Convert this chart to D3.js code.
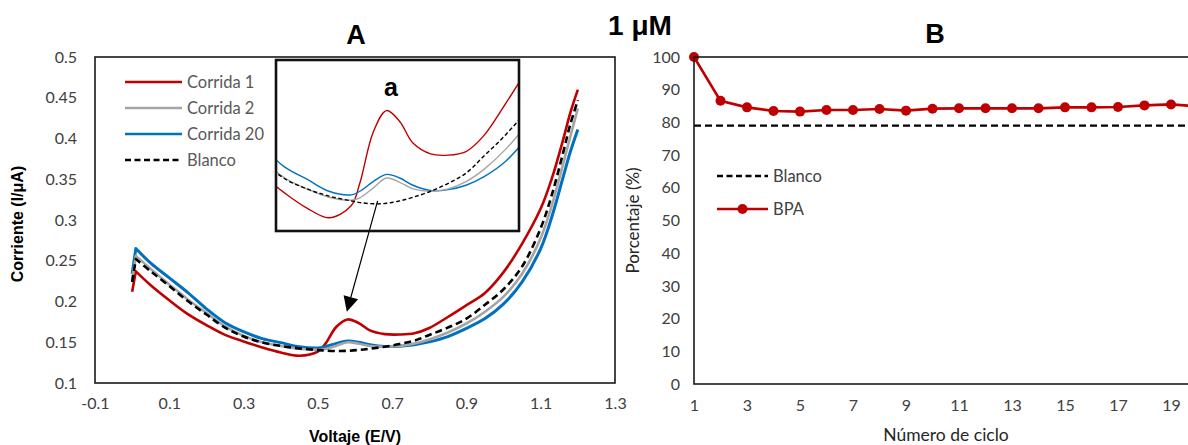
<!DOCTYPE html>
<html>
<head>
<meta charset="utf-8">
<script src="https://cdn.jsdelivr.net/npm/d3@7"></script>
<style>
  html, body { margin: 0; padding: 0; background: #fff; }
  svg { display: block; }
  .tick text { font-family: Lato, "Open Sans", sans-serif; font-size: 16px; fill: #404040; }
</style>
</head>
<body>
<svg id="fig" width="1188" height="445"></svg>
<script>
// ---- Panel A: cyclic voltammograms (current vs. potential) ----
const voltage = [0, 0.01, 0.05, 0.1, 0.15, 0.2, 0.25, 0.3, 0.35, 0.4, 0.45, 0.5, 0.52, 0.55, 0.58,
                 0.61, 0.64, 0.68, 0.72, 0.76, 0.8, 0.85, 0.9, 0.95, 1.0, 1.05, 1.1, 1.13, 1.16, 1.18, 1.2];
const corrida1 = [0.212, 0.237, 0.220, 0.2015, 0.1845, 0.171, 0.159, 0.151, 0.1437, 0.1375, 0.1335, 0.1385,
                  0.148, 0.169, 0.178, 0.1735, 0.1645, 0.160, 0.1595, 0.161, 0.1675, 0.181, 0.1955, 0.2105,
                  0.236, 0.271, 0.314, 0.351, 0.398, 0.432, 0.460];
const corrida2 = [0.227, 0.256, 0.240, 0.221, 0.2025, 0.186, 0.1695, 0.158, 0.150, 0.1455, 0.142, 0.1408,
                  0.1418, 0.1458, 0.150, 0.1482, 0.1455, 0.1445, 0.1455, 0.1485, 0.1535, 0.162, 0.173, 0.1875,
                  0.206, 0.234, 0.278, 0.318, 0.368, 0.403, 0.437];
const corrida20 = [0.234, 0.265, 0.247, 0.229, 0.211, 0.191, 0.174, 0.163, 0.1545, 0.1495, 0.1445, 0.143,
                   0.1445, 0.1485, 0.1515, 0.150, 0.147, 0.1448, 0.1452, 0.147, 0.1505, 0.157, 0.167, 0.179,
                   0.197, 0.224, 0.265, 0.304, 0.352, 0.384, 0.411];
const blanco = [0.224, 0.252, 0.237, 0.219, 0.2005, 0.184, 0.168, 0.157, 0.1497, 0.1455, 0.1425, 0.1405,
                0.1398, 0.1393, 0.1395, 0.1405, 0.142, 0.1445, 0.1478, 0.152, 0.159, 0.168, 0.179, 0.196,
                0.215, 0.243, 0.290, 0.331, 0.382, 0.418, 0.447];
const voltTicks = [-0.1, 0.1, 0.3, 0.5, 0.7, 0.9, 1.1, 1.3];
const currentTicks = [0.1, 0.15, 0.2, 0.25, 0.3, 0.35, 0.4, 0.45, 0.5];
const seriesNames = ["Corrida 1", "Corrida 2", "Corrida 20", "Blanco"];

// ---- Panel B: signal retention per cycle ----
const ciclos = d3.range(1, 21);
const bpaPct = [100, 86.6, 84.6, 83.5, 83.3, 83.8, 83.8, 84.1, 83.6, 84.2, 84.3, 84.3, 84.3, 84.3,
                84.6, 84.6, 84.7, 85.2, 85.5, 84.9];
const blancoPct = 79;
const cicloTicks = [1, 3, 5, 7, 9, 11, 13, 15, 17, 19];
const pctTicks = [0, 10, 20, 30, 40, 50, 60, 70, 80, 90, 100];

const svg = d3.select("#fig");
const RED = "#C00000", GRAY = "#A5A5A5", BLUE = "#0070C0", BLACK = "#000";
const bodyFont = "Lato, 'Open Sans', sans-serif";
const boldFont = "'Liberation Sans', Arial, sans-serif";

const runs = [
  { name: seriesNames[0], values: corrida1, color: RED, dash: null, w: 2.6 },
  { name: seriesNames[2], values: corrida20, color: BLUE, dash: null, w: 3 },
  { name: seriesNames[1], values: corrida2, color: GRAY, dash: null, w: 2.6 },
  { name: seriesNames[3], values: blanco, color: BLACK, dash: "7,4", w: 2.6 }
];

// The sweep starts with a sharp switching spike: draw that first rise as a straight
// segment and smooth the rest of the trace from the spike onwards.
function tracePath(xs, ys, values) {
  const pts = values.map((v, i) => [xs(voltage[i]), ys(v)]);
  const straight = d3.line()(pts.slice(0, 2));
  const smooth = d3.line().curve(d3.curveCatmullRom.alpha(0.5))(pts.slice(1));
  return straight + smooth.replace(/^M/, "L");
}

// ================= Panel A =================
const A = { l: 95, r: 615, t: 57, b: 383 };
const xA = d3.scaleLinear([-0.1, 1.3], [A.l, A.r]);
const yA = d3.scaleLinear([0.1, 0.5], [A.b, A.t]);

const gA = svg.append("g");
gA.append("g").attr("transform", `translate(${A.l},0)`)
  .call(d3.axisLeft(yA).tickValues(currentTicks).tickSize(0).tickPadding(18).tickFormat(d => String(+d.toFixed(2))))
  .call(g => g.select(".domain").remove());
gA.append("g").attr("transform", `translate(0,${A.b})`)
  .call(d3.axisBottom(xA).tickValues(voltTicks).tickSize(0).tickPadding(15).tickFormat(d => String(+d.toFixed(1))))
  .call(g => g.select(".domain").remove());

runs.forEach(s => {
  gA.append("path").attr("d", tracePath(xA, yA, s.values)).attr("fill", "none")
    .attr("stroke", s.color).attr("stroke-width", s.w)
    .attr("stroke-dasharray", s.dash).attr("stroke-linejoin", "round");
});

gA.append("rect").attr("x", A.l).attr("y", A.t).attr("width", A.r - A.l).attr("height", A.b - A.t)
  .attr("fill", "none").attr("stroke", "#1a1a1a").attr("stroke-width", 1.6);

// legend
const legA = gA.append("g").attr("transform", "translate(125,82)");
[runs[0], runs[2], runs[1], runs[3]].forEach((s, i) => {
  const row = legA.append("g").attr("transform", `translate(0,${i * 26})`);
  row.append("line").attr("x1", 0).attr("x2", 57).attr("stroke", s.color)
    .attr("stroke-width", s.color === BLACK ? 2.4 : 2.6).attr("stroke-dasharray", s.dash ? "6,3.5" : null);
  row.append("text").attr("x", 62).attr("y", 5.5).text(s.name)
    .style("font-family", bodyFont).style("font-size", "16.5px").attr("fill", "#595959");
});

// inset "a": magnified view of the oxidation peak
const I = { l: 276, r: 519, t: 60, b: 231 };
const xI = d3.scaleLinear([0.33, 0.88], [I.l, I.r]);
const yI = d3.scaleLinear([0.128, 0.199], [I.b, I.t]);
svg.append("defs").append("clipPath").attr("id", "insetClip")
  .append("rect").attr("x", I.l).attr("y", I.t).attr("width", I.r - I.l).attr("height", I.b - I.t);
const gI = gA.append("g");
gI.append("rect").attr("x", I.l).attr("y", I.t).attr("width", I.r - I.l).attr("height", I.b - I.t).attr("fill", "#fff");
const gIc = gI.append("g").attr("clip-path", "url(#insetClip)");
runs.forEach(s => {
  gIc.append("path").attr("d", tracePath(xI, yI, s.values)).attr("fill", "none")
    .attr("stroke", s.color).attr("stroke-width", 1.4)
    .attr("stroke-dasharray", s.dash ? "4,2.5" : null);
});
gI.append("rect").attr("x", I.l).attr("y", I.t).attr("width", I.r - I.l).attr("height", I.b - I.t)
  .attr("fill", "none").attr("stroke", "#111").attr("stroke-width", 2.6);
gI.append("text").attr("x", 391).attr("y", 96).attr("text-anchor", "middle").text("a")
  .style("font-family", boldFont).style("font-weight", "bold").style("font-size", "25px");

// arrow from the inset down to the peak at ~0.58 V
const arrowFrom = [xI(0.56), yI(0.1405)];
const arrowTo = [xA(0.578), yA(0.1875)];
{
  const [x1, y1] = arrowFrom, [x2, y2] = arrowTo;
  const ang = Math.atan2(y2 - y1, x2 - x1), L = 15, W = 7.5;
  const bx = x2 - L * Math.cos(ang), by = y2 - L * Math.sin(ang);
  gA.append("line").attr("x1", x1).attr("y1", y1).attr("x2", bx).attr("y2", by)
    .attr("stroke", "#000").attr("stroke-width", 1.2);
  gA.append("path").attr("fill", "#000").attr("d",
    `M${x2},${y2}L${bx + W * Math.sin(ang)},${by - W * Math.cos(ang)}L${bx - W * Math.sin(ang)},${by + W * Math.cos(ang)}Z`);
}

// axis titles A
gA.append("text").attr("transform", `translate(23,${(A.t + A.b) / 2 + 4}) rotate(-90)`)
  .attr("text-anchor", "middle").text("Corriente (I/μA)")
  .style("font-family", boldFont).style("font-weight", "bold").style("font-size", "16px");
gA.append("text").attr("x", 355).attr("y", 442).attr("text-anchor", "middle").text("Voltaje (E/V)")
  .style("font-family", boldFont).style("font-weight", "bold").style("font-size", "16px");

// ================= Panel B =================
const B = { l: 694, t: 57, b: 384 };
const xB = d3.scaleLinear([1, 21], [B.l, 1224]);
const yB = d3.scaleLinear([0, 100], [B.b, B.t]);
const gB = svg.append("g");
gB.append("g").attr("transform", `translate(${B.l},0)`)
  .call(d3.axisLeft(yB).tickValues(pctTicks).tickSize(0).tickPadding(14))
  .call(g => g.select(".domain").remove());
gB.append("g").attr("transform", `translate(0,${B.b})`)
  .call(d3.axisBottom(xB).tickValues(cicloTicks).tickSize(0).tickPadding(16))
  .call(g => g.select(".domain").remove());

gB.append("line").attr("x1", xB(1)).attr("x2", xB(21)).attr("y1", yB(blancoPct)).attr("y2", yB(blancoPct))
  .attr("stroke", BLACK).attr("stroke-width", 2.4).attr("stroke-dasharray", "7,4");
gB.append("path").attr("d", d3.line().x((d, i) => xB(ciclos[i])).y(d => yB(d))(bpaPct))
  .attr("fill", "none").attr("stroke", RED).attr("stroke-width", 2.6);
gB.selectAll("circle.pt").data(bpaPct).join("circle").attr("class", "pt")
  .attr("cx", (d, i) => xB(ciclos[i])).attr("cy", d => yB(d)).attr("r", 5).attr("fill", RED);

gB.append("rect").attr("x", B.l).attr("y", B.t).attr("width", xB(21) - B.l).attr("height", B.b - B.t)
  .attr("fill", "none").attr("stroke", "#1a1a1a").attr("stroke-width", 1.6);

// legend B
const legB = gB.append("g").attr("transform", "translate(717,176)");
legB.append("line").attr("x1", 0).attr("x2", 51).attr("stroke", BLACK).attr("stroke-width", 2.4).attr("stroke-dasharray", "6,3.5");
legB.append("text").attr("x", 56).attr("y", 5.5).text("Blanco")
  .style("font-family", bodyFont).style("font-size", "16.5px").attr("fill", "#404040");
const bpaRow = legB.append("g").attr("transform", "translate(0,33)");
bpaRow.append("line").attr("x1", 0).attr("x2", 51).attr("stroke", RED).attr("stroke-width", 2.6);
bpaRow.append("circle").attr("cx", 25.5).attr("r", 5).attr("fill", RED);
bpaRow.append("text").attr("x", 56).attr("y", 5.5).text("BPA")
  .style("font-family", bodyFont).style("font-size", "16.5px").attr("fill", "#404040");

gB.append("text").attr("transform", `translate(639,${(B.t + B.b) / 2}) rotate(-90)`)
  .attr("text-anchor", "middle").text("Porcentaje (%)")
  .style("font-family", bodyFont).style("font-size", "17px").attr("fill", "#262626");
gB.append("text").attr("x", 946).attr("y", 441).attr("text-anchor", "middle").text("Número de ciclo")
  .style("font-family", bodyFont).style("font-size", "17.5px").attr("fill", "#262626");

// ================= Titles =================
svg.append("text").attr("x", 356).attr("y", 44).attr("text-anchor", "middle").text("A")
  .style("font-family", boldFont).style("font-weight", "bold").style("font-size", "27px");
svg.append("text").attr("x", 935).attr("y", 43).attr("text-anchor", "middle").text("B")
  .style("font-family", boldFont).style("font-weight", "bold").style("font-size", "27px");
svg.append("text").attr("x", 640).attr("y", 35).attr("text-anchor", "middle").text("1 μM")
  .style("font-family", boldFont).style("font-weight", "bold").style("font-size", "28px");
</script>
</body>
</html>
